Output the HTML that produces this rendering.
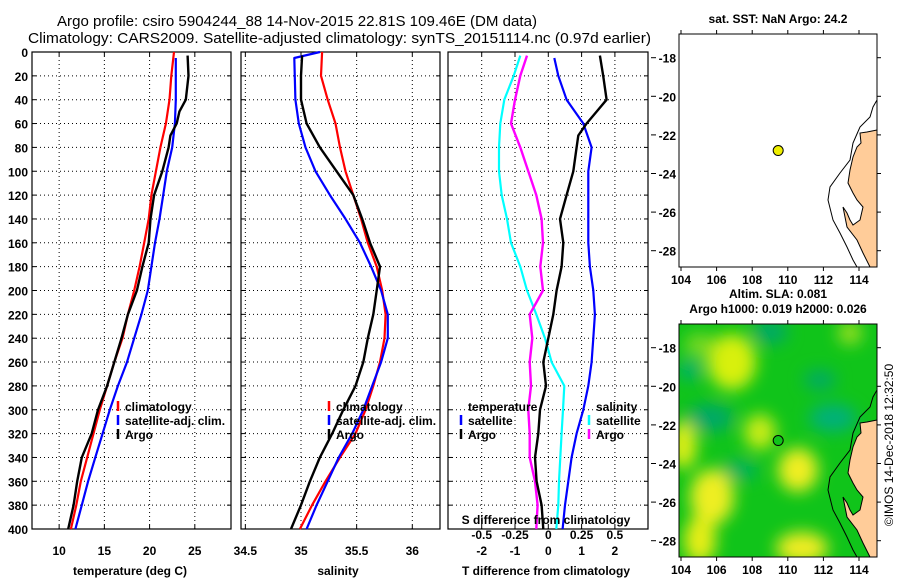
<!DOCTYPE html>
<html><head><meta charset="utf-8"><style>
html,body{margin:0;padding:0;background:#fff;}
svg{display:block;font-family:"Liberation Sans",sans-serif;}
</style></head><body>
<svg id="fig" width="900" height="580" viewBox="0 0 900 580" xmlns="http://www.w3.org/2000/svg">
<defs>
<filter id="blur" x="-50%" y="-50%" width="200%" height="200%"><feGaussianBlur stdDeviation="8"/></filter>
<clipPath id="clipMap2"><rect x="679" y="324" width="198" height="233"/></clipPath>
</defs>
<text x="57" y="26" font-size="15" textLength="480" lengthAdjust="spacingAndGlyphs">Argo profile: csiro 5904244_88 14-Nov-2015 22.81S 109.46E (DM data)</text>
<text x="28" y="43" font-size="15" textLength="623" lengthAdjust="spacingAndGlyphs">Climatology: CARS2009. Satellite-adjusted climatology: synTS_20151114.nc (0.97d earlier)</text>
<g id="layer"></g>
<text transform="translate(893,445) rotate(-90)" text-anchor="middle" font-size="12">©IMOS 14-Dec-2018 12:32:50</text>
</svg>
<script>
// ---------- data ----------
const depths = [0,20,40,60,80,100,120,140,160,180,200,220,240,260,280,300,320,340,360,380,400];
const argoDepthsS = [3,20,40,60,80,100,120,140,160,180,200,220,240,260,280,300,320,340,360,380,400];
const tempClim = [22.7,22.4,22.2,21.8,21.2,20.7,20.2,19.9,19.4,18.9,18.3,17.6,17.0,16.1,15.3,14.5,13.8,13.1,12.4,11.9,11.3];
const tempSat  = [22.9,22.9,22.9,22.8,22.5,21.9,21.5,21.1,20.6,20.2,19.8,19.1,18.3,17.5,16.5,15.6,14.8,14.0,13.2,12.5,11.8];
const argoDepths = [3,20,40,50,60,70,80,100,120,140,160,180,200,220,240,260,280,300,320,340,360,380,400];
const tempArgo = [24.2,24.3,24.0,23.3,23.0,22.3,22.1,21.4,20.5,20.1,19.9,19.2,18.6,17.6,16.9,16.1,15.3,14.3,13.6,12.5,12.0,11.6,11.0];
const salClim = [35.19,35.18,35.24,35.31,35.35,35.40,35.47,35.54,35.60,35.68,35.73,35.76,35.75,35.71,35.65,35.58,35.49,35.35,35.22,35.10,34.99];
const salSat  = [35.17,34.94,34.95,34.98,35.04,35.13,35.26,35.40,35.53,35.63,35.72,35.78,35.78,35.72,35.64,35.56,35.46,35.34,35.24,35.14,35.05];
const salArgo = [35.01,35.00,35.00,35.05,35.17,35.32,35.47,35.55,35.62,35.71,35.68,35.65,35.60,35.56,35.49,35.38,35.28,35.17,35.08,35.00,34.91];
const tDiffSat  = [0.18,0.30,0.55,1.05,1.30,1.20,1.20,1.20,1.20,1.25,1.35,1.40,1.35,1.30,1.20,1.05,0.85,0.70,0.60,0.50,0.43];
const tDiffArgo = [1.55,1.65,1.75,1.45,1.15,0.90,0.85,0.75,0.55,0.35,0.45,0.40,0.25,0.15,0.00,-0.15,-0.07,-0.25,-0.30,-0.40,-0.35,-0.20,-0.15];
const sDiffSat  = [-0.21,-0.26,-0.33,-0.36,-0.37,-0.37,-0.35,-0.31,-0.28,-0.21,-0.16,-0.09,-0.025,0.025,0.12,0.11,0.10,0.09,0.08,0.075,0.06];
const sDiffArgo = [-0.16,-0.21,-0.25,-0.28,-0.21,-0.15,-0.09,-0.05,-0.04,-0.06,-0.04,-0.14,-0.12,-0.14,-0.13,-0.15,-0.14,-0.14,-0.10,-0.08,-0.09];
const depthTicks = [0,20,40,60,80,100,120,140,160,180,200,220,240,260,280,300,320,340,360,380,400];
const tempTicks = [10,15,20,25];
const salTicks = [34.5,35,35.5,36];
const salTickLabels = ["34.5","35","35.5","36"];
const tdTicks = [-2,-1,0,1,2];
const sdTicks = [-0.5,-0.25,0,0.25,0.5];
const sdTickLabels = ["-0.5","-0.25","0","0.25","0.5"];
const lonTicks = [104,106,108,110,112,114];
const latTicks = [-18,-20,-22,-24,-26,-28];
const argoLon = [109.46];
const argoLat = [-22.81];

// ---------- helpers ----------
const NS="http://www.w3.org/2000/svg";
const layer=document.getElementById('layer');
function mk(tag,attrs,parent){const e=document.createElementNS(NS,tag);for(const k in attrs)e.setAttribute(k,attrs[k]);(parent||layer).appendChild(e);return e;}
function txt(s,x,y,size,anchor,parent,bold){const e=mk('text',{x:x,y:y,'font-size':size,'text-anchor':anchor||'start','font-weight':bold?'bold':'normal'},parent);e.textContent=s;return e;}
const Y0=52,Y1=529;
const yD=d=>Y0+(d/400)*(Y1-Y0);
function lin(d0,d1,p0,p1){return v=>p0+(v-d0)/(d1-d0)*(p1-p0);}

function panel(name,x0,x1,xs,ticks,labels,showY){
  const g=mk('g',{});
  
  
  depthTicks.forEach(d=>{ if(d>0&&d<400) mk('line',{x1:x0,x2:x1,y1:yD(d),y2:yD(d),stroke:'#000','stroke-width':1,'stroke-dasharray':'1,3'},g);
    mk('line',{x1:x0,x2:x0+4,y1:yD(d),y2:yD(d),stroke:'#000'},g);
    mk('line',{x1:x1-4,x2:x1,y1:yD(d),y2:yD(d),stroke:'#000'},g);
    if(showY){const t=txt(String(d),28,yD(d)+5,12,'end',g,true);
      
      }
  });
  ticks.forEach((v,i)=>{const x=xs(v);
    mk('line',{x1:x,x2:x,y1:Y0,y2:Y1,stroke:'#000','stroke-dasharray':'1,3'},g);
    mk('line',{x1:x,x2:x,y1:Y1-4,y2:Y1,stroke:'#000'},g);
    mk('line',{x1:x,x2:x,y1:Y0,y2:Y0+4,stroke:'#000'},g);
    if(labels){const t=txt(labels[i],x,555,12,'middle',g,true);
      
      }
  });
  mk('rect',{x:x0,y:Y0,width:x1-x0,height:Y1-Y0,fill:'none',stroke:'#000','stroke-width':1.2},g);
  return g;
}
function series(name,xsArr,ds,xs,color,w,g){
  const pts=xsArr.map((v,i)=>xs(v).toFixed(1)+','+yD(ds[i]).toFixed(1)).join(' ');
  const p=mk('polyline',{points:pts,fill:'none',stroke:color,'stroke-width':w||2.2,'stroke-linejoin':'round'},g);
  
  
}
function legend(x,y,items,g){
  items.forEach((it,i)=>{
    if(it[1]) mk('line',{x1:x,x2:x,y1:y+i*14-10,y2:y+i*14,stroke:it[1],'stroke-width':2.5},g);
    const t=txt(it[0],x+7,y+i*14,12,'start',g,true);
    
    
  });
}

// ---------- panel 1: temperature ----------
const xT=lin(7,29,32,231);
const g1=panel('temperature-panel',32,231,xT,tempTicks,tempTicks.map(String),true);
series('temp-climatology-line',tempClim,depths,xT,'#ff0000',2.2,g1);
series('temp-satellite-line',tempSat,depths.map((d,i)=>i==0?5:d),xT,'#0000ff',2.2,g1);
series('temp-argo-line',tempArgo,argoDepths,xT,'#000',2.4,g1);
legend(118,411,[['climatology','#ff0000'],['satellite-adj. clim.','#0000ff'],['Argo','#000']],g1);
txt('temperature (deg C)',130,575,12,'middle',g1,true);

// ---------- panel 2: salinity ----------
const xS=lin(35,36,301,412.3);
const g2=panel('salinity-panel',241,440,xS,salTicks,salTickLabels,false);
series('sal-climatology-line',salClim,depths,xS,'#ff0000',2.2,g2);
series('sal-satellite-line',salSat,depths.map((d,i)=>i==1?5:d),xS,'#0000ff',2.2,g2);
series('sal-argo-line',salArgo,argoDepthsS,xS,'#000',2.4,g2);
legend(329,411,[['climatology','#ff0000'],['satellite-adj. clim.','#0000ff'],['Argo','#000']],g2);
txt('salinity',338,575,12,'middle',g2,true);

// ---------- panel 3: differences ----------
const xTD=lin(0,1,548.3,581.6);
const xSD=lin(0,0.25,548.3,581.6);
const g3=panel('difference-panel',448,648,xTD,tdTicks,tdTicks.map(String),false);
series('sdiff-satellite-line',sDiffSat,depths.map((d,i)=>i==0?3:d),xSD,'#00ffff',2.2,g3);
series('sdiff-argo-line',sDiffArgo,argoDepthsS,xSD,'#ff00ff',2.4,g3);
series('tdiff-satellite-line',tDiffSat,depths.map((d,i)=>i==0?5:d),xTD,'#0000ff',2.2,g3);
series('tdiff-argo-line',tDiffArgo,argoDepths,xTD,'#000',2.4,g3);
txt('temperature',468,411,12,'start',g3,true);
legend(461,425,[['satellite','#0000ff'],['Argo','#000']],g3);
txt('salinity',596,411,12,'start',g3,true);
legend(589,425,[['satellite','#00ffff'],['Argo','#ff00ff']],g3);
txt('S difference from climatology',546,524,12,'middle',g3,true);
sdTicks.forEach((v,i)=>{const t=txt(sdTickLabels[i],xSD(v),539,12,'middle',g3,true);
  
  });
txt('T difference from climatology',546,575,12,'middle',g3,true);

// ---------- maps ----------
const landPts=[[877,130],[867,132],[860,133],[861,143],[857,147],[853,157],[850,170],[848,183],[853,193],[857,200],[863,207],[860,220],[853,225],[850,220],[847,213],[843,207],[847,227],[857,240],[863,253],[870,267],[877,267]];
const contourPts=[[877,100],[873,107],[870,117],[860,127],[853,143],[850,160],[840,173],[830,187],[828,200],[833,220],[840,233],[847,247],[853,260],[857,267]];
function drawMap(name,top,title,isSLA){
  const g=mk('g',{});
  
  
  const L=679,R=877,T=top,B=top+233;
  const xL=lin(104,114,681,859), yL=lin(-18,-28,top+23.7,top+216.7);
  if(isSLA){
    const cg=mk('g',{'clip-path':'url(#clipMap2)'},g);
    mk('rect',{x:L,y:T,width:R-L,height:B-T,fill:'#10c41a'},cg);
    const fg=mk('g',{filter:'url(#blur)'},cg);
    const blobs=[[710,418,24,14,'#00a868'],[770,332,18,12,'#00a868'],[833,418,24,14,'#00b07a'],[820,380,16,10,'#00aa66'],[740,470,18,10,'#00b060'],[690,370,12,10,'#00b070'],
      [732,362,24,28,'#d8f010'],[712,497,22,28,'#eeee20'],[700,540,16,24,'#e8ee18'],[798,470,20,22,'#f0ee20'],[802,548,26,16,'#f0ec20'],[760,432,16,18,'#c8ec18'],[683,445,14,24,'#dcee18'],[850,333,12,12,'#99e022'],[700,345,16,12,'#77d822']];
    blobs.forEach(b=>mk('ellipse',{cx:b[0],cy:b[1]+top-324,rx:b[2],ry:b[3],fill:b[4]},fg));
  }
  const sh=top-34;
  mk('polygon',{points:landPts.map(p=>p[0]+','+(p[1]+sh)).join(' '),fill:'#ffcc99',stroke:'#000','stroke-width':1},g);
  mk('polyline',{points:contourPts.map(p=>p[0]+','+(p[1]+sh)).join(' '),fill:'none',stroke:'#000','stroke-width':1},g);
  mk('rect',{x:L,y:T,width:R-L,height:B-T,fill:'none',stroke:'#000'},g);
  lonTicks.forEach(v=>{const x=xL(v);
    mk('line',{x1:x,x2:x,y1:T-4,y2:T,stroke:'#000'},g);
    mk('line',{x1:x,x2:x,y1:B,y2:B+4,stroke:'#000'},g);
    const t=txt(String(v),x,B+17,12,'middle',g,true);
    
    });
  latTicks.forEach(v=>{const y=yL(v);
    mk('line',{x1:651,x2:656,y1:y,y2:y,stroke:'#000'},g);
    mk('line',{x1:R,x2:R+4,y1:y,y2:y,stroke:'#000'},g);
    const t=txt(String(v),676,y+5,12,'end',g,true);
    
    });
  argoLon.forEach((lo,i)=>{const c=mk('circle',{cx:xL(lo),cy:yL(argoLat[i]),r:5,fill:isSLA?'#10c41a':'#eeee00',stroke:'#000'},g);
    
    });
  title.forEach((s,i)=>{const t=txt(s,778,top-(title.length-1-i)*15-11,12,'middle',g,true);
    
    });
}
drawMap('sst-map',34,['sat. SST: NaN Argo: 24.2'],false);
drawMap('sla-map',324,['Altim. SLA: 0.081','Argo h1000: 0.019 h2000: 0.026'],true);
</script>
</body></html>
